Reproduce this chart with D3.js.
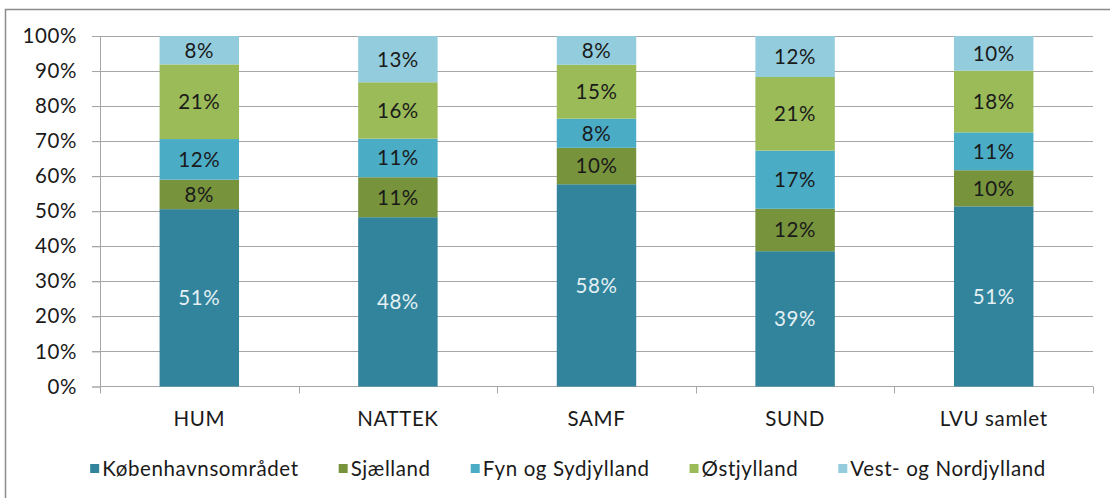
<!DOCTYPE html>
<html>
<head>
<meta charset="utf-8">
<script src="https://cdn.jsdelivr.net/npm/d3@7"></script>
<style>
  body { margin: 0; background: #fff; }
  text { font-family: Lato, "Open Sans", sans-serif; letter-spacing: 0.6px; }
</style>
</head>
<body>
<svg id="chart" width="1110" height="498"></svg>
<script>
// Data
const categories = ['HUM', 'NATTEK', 'SAMF', 'SUND', 'LVU samlet']
const seriesNames = ['Københavnsområdet', 'Sjælland', 'Fyn og Sydjylland', 'Østjylland', 'Vest- og Nordjylland']
const kobenhavn = [50.6, 48.3, 57.7, 38.6, 51.4]
const sjaelland = [8.4, 11.4, 10.4, 12.1, 10.3]
const fynSyd = [11.6, 11.0, 8.3, 16.6, 10.8]
const ostjylland = [21.3, 16.1, 15.4, 21.0, 17.6]
const vestNord = [8.1, 13.2, 8.2, 11.7, 9.9]
const yTicks = [0, 10, 20, 30, 40, 50, 60, 70, 80, 90, 100]

const colors = ['#31849b', '#77933c', '#4bacc6', '#9bbb59', '#93cddd']
const labelColors = ['#e4f0f4', '#1a1a1a', '#1a1a1a', '#1a1a1a', '#1a1a1a']
const fontSize = 20.5

const seriesValues = [kobenhavn, sjaelland, fynSyd, ostjylland, vestNord]
const rows = categories.map((c, i) => {
  const r = { cat: c }
  seriesNames.forEach((s, j) => { r[s] = seriesValues[j][i] })
  return r
})
const stacked = d3.stack().keys(seriesNames)(rows)

const svg = d3.select('#chart')
const plotLeft = 100, plotRight = 1093, plotTop = 36, plotBottom = 386.5

// frame
svg.append('path')
  .attr('d', 'M5.5,498 V9.5 H1110')
  .attr('fill', 'none').attr('stroke', '#8c8c8c').attr('stroke-width', 1.5)

let xScale = d3.scaleBand().domain(categories).range([plotLeft, plotRight]).paddingInner(0.6).paddingOuter(0.3)
let yScale = d3.scaleLinear().domain([0, 100]).range([plotBottom, plotTop])

// gridlines
svg.append('g').selectAll('line')
  .data(yTicks.filter(d => d > 0))
  .enter().append('line')
  .attr('x1', plotLeft - 8).attr('x2', plotRight)
  .attr('y1', d => Math.round(yScale(d)) + 0.5).attr('y2', d => Math.round(yScale(d)) + 0.5)
  .attr('stroke', '#a6a6a6').attr('stroke-width', 1)

// y axis
let yAxis = d3.axisLeft(yScale).tickValues(yTicks).tickSize(8).tickPadding(15).tickFormat(d => d + '%')
const yG = svg.append('g').attr('id', 'yAxisG').attr('transform', `translate(${plotLeft},0)`).call(yAxis)
yG.select('.domain').attr('stroke', '#a6a6a6')
yG.selectAll('.tick line').attr('stroke', '#a6a6a6')
yG.selectAll('text').attr('font-size', fontSize).attr('fill', '#1a1a1a').attr('font-family', 'Lato')

// x axis with separator ticks at band boundaries
const xG = svg.append('g').attr('transform', `translate(0,${plotBottom})`)
xG.append('line').attr('x1', plotLeft).attr('x2', plotRight).attr('y1', 0).attr('y2', 0).attr('stroke', '#a6a6a6')
xG.selectAll('.sep')
  .data(d3.range(categories.length + 1))
  .enter().append('line')
  .attr('x1', i => Math.round(plotLeft + i * (plotRight - plotLeft) / categories.length) + 0.5)
  .attr('x2', i => Math.round(plotLeft + i * (plotRight - plotLeft) / categories.length) + 0.5)
  .attr('y1', 0).attr('y2', 7)
  .attr('stroke', '#a6a6a6')
xG.selectAll('.cat')
  .data(categories)
  .enter().append('text')
  .attr('x', d => xScale(d) + xScale.bandwidth() / 2)
  .attr('y', 39.5)
  .attr('text-anchor', 'middle')
  .attr('font-size', fontSize).attr('fill', '#1a1a1a')
  .text(d => d)

// bars
const layers = svg.append('g').selectAll('g')
  .data(stacked)
  .enter().append('g')
  .attr('fill', (d, i) => colors[i])

layers.selectAll('rect')
  .data(d => d)
  .enter().append('rect')
  .attr('x', d => xScale(d.data.cat))
  .attr('width', xScale.bandwidth())
  .attr('y', d => yScale(d[1]))
  .attr('height', d => yScale(d[0]) - yScale(d[1]))

// data labels
stacked.forEach((layer, i) => {
  svg.append('g').selectAll('text')
    .data(layer)
    .enter().append('text')
    .attr('x', d => xScale(d.data.cat) + xScale.bandwidth() / 2)
    .attr('y', d => (yScale(d[0]) + yScale(d[1])) / 2)
    .attr('dy', '0.36em')
    .attr('text-anchor', 'middle')
    .attr('font-size', fontSize)
    .attr('fill', labelColors[i])
    .text(d => Math.round(d[1] - d[0]) + '%')
})

// legend
const legend = svg.append('g').attr('transform', 'translate(0,469)')
const items = legend.selectAll('g').data(seriesNames).enter().append('g')
items.append('rect').attr('width', 9).attr('height', 9).attr('y', -5).attr('fill', (d, i) => colors[i])
items.append('text').attr('x', 12).attr('dy', '0.35em').attr('font-size', fontSize).attr('fill', '#1a1a1a').text(d => d)
let widths = []
items.each(function () { widths.push(this.getBBox().width) })
const gap = 40
const total = d3.sum(widths) + gap * (widths.length - 1)
let xPos = 568 - total / 2
items.attr('transform', (d, i) => {
  const t = `translate(${xPos},0)`
  xPos += widths[i] + gap
  return t
})
</script>
</body>
</html>
